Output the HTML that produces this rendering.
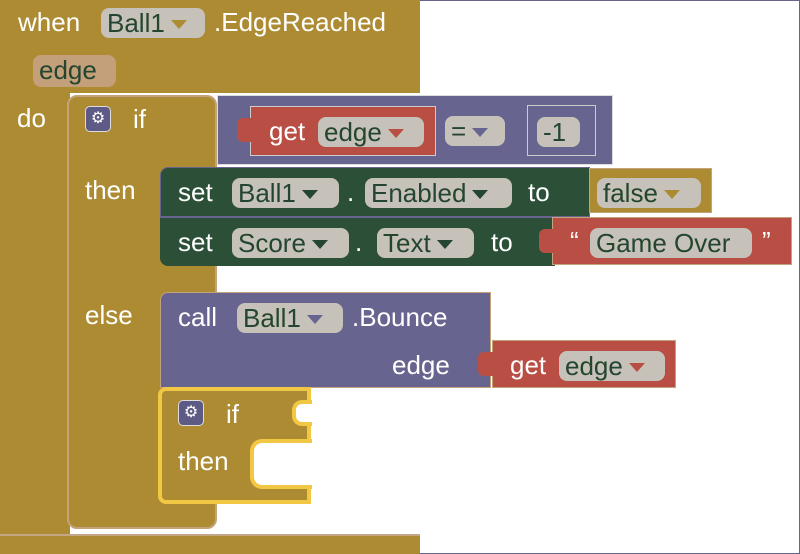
<!DOCTYPE html>
<html><head><meta charset="utf-8"><style>
body{margin:0;width:800px;height:554px;overflow:hidden;background:#fff;font-family:"Liberation Sans",sans-serif;}
.a{position:absolute;box-sizing:border-box;}
.t{position:absolute;color:#fff;font-size:26px;line-height:30px;white-space:nowrap;}
.f{position:absolute;box-sizing:border-box;background:#c6c2b9;border-radius:8px;color:#24452f;font-size:26px;line-height:30px;padding:0 6px;white-space:nowrap;}
.f .dd{display:inline-block;width:0;height:0;border-left:8px solid transparent;border-right:8px solid transparent;border-top:9px solid #24452f;margin-left:6px;vertical-align:3px;}
.gold{background:#ad8b33;}
.purp{background:#67648f;}
.red{background:#b94f44;}
.grn{background:#2c4f38;}
.gear{position:absolute;width:26px;height:26px;background:#5d5a85;border:1px solid #ddd;border-radius:5px;box-sizing:border-box;color:#fff;font-size:16px;line-height:24px;text-align:center;}
</style></head><body>
<div class="a" style="left:0;top:0;width:800px;height:554px;border:1px solid #67648f;border-left:none;"></div>
<div class="a gold" style="left:0;top:0;width:420px;height:93px;"></div>
<div class="a gold" style="left:0;top:90px;width:70px;height:464px;"></div>
<div class="a gold" style="left:0;top:534px;width:420px;height:20px;border-top:2px solid #c2a685;"></div>
<div class="t" style="left:18px;top:7px;">when</div>
<div class="f" style="left:101px;top:8px;width:104px;height:30px;">Ball1<span class="dd" style="border-top-color:#ad8b33"></span></div>
<div class="t" style="left:214px;top:7px;">.EdgeReached</div>
<div class="f" style="left:33px;top:55px;width:83px;height:32px;background:#c4a07a;">edge</div>
<div class="t" style="left:17px;top:103px;">do</div>
<div class="a gold" style="left:67px;top:95px;width:150px;height:434px;border:2px solid #c4a27a;border-radius:10px;"></div>
<div class="gear" style="left:85px;top:106px;">⚙</div>
<div class="t" style="left:133px;top:104px;">if</div>
<div class="t" style="left:85px;top:175px;">then</div>
<div class="t" style="left:85px;top:300px;">else</div>
<div class="a purp" style="left:217px;top:95px;width:396px;height:70px;border:1px solid #ddd;"></div>
<div class="a red" style="left:250px;top:106px;width:186px;height:50px;border:1px solid #ccc;"></div>
<div class="a red" style="left:237px;top:118px;width:16px;height:24px;border-radius:6px 0 0 6px;"></div>
<div class="t" style="left:269px;top:116px;">get</div>
<div class="f" style="left:318px;top:117px;width:106px;height:30px;">edge<span class="dd" style="border-top-color:#b94f44"></span></div>
<div class="f" style="left:445px;top:116px;width:60px;height:30px;">=<span class="dd" style="border-top-color:#67648f"></span></div>
<div class="a" style="left:527px;top:105px;width:69px;height:51px;border:1px solid #ccc;"></div>
<div class="f" style="left:537px;top:117px;width:43px;height:30px;">-1</div>
<div class="a grn" style="left:160px;top:167px;width:430px;height:50px;border-radius:8px 0 0 0;border:1px solid #67648f;"></div>
<div class="t" style="left:178px;top:177px;">set</div>
<div class="f" style="left:232px;top:178px;width:107px;height:30px;">Ball1<span class="dd"></span></div>
<div class="t" style="left:347px;top:177px;">.</div>
<div class="f" style="left:365px;top:178px;width:147px;height:30px;">Enabled<span class="dd"></span></div>
<div class="t" style="left:528px;top:177px;">to</div>
<div class="a gold" style="left:589px;top:168px;width:123px;height:45px;border:1px solid #c4a27a;"></div>
<div class="f" style="left:597px;top:178px;width:104px;height:30px;">false<span class="dd" style="border-top-color:#ad8b33"></span></div>
<div class="a grn" style="left:160px;top:217px;width:395px;height:49px;border-top:1px solid #67648f;border-radius:0 0 0 8px;"></div>
<div class="t" style="left:178px;top:227px;">set</div>
<div class="f" style="left:232px;top:228px;width:117px;height:30px;">Score<span class="dd"></span></div>
<div class="t" style="left:355px;top:227px;">.</div>
<div class="f" style="left:377px;top:228px;width:97px;height:30px;">Text<span class="dd"></span></div>
<div class="t" style="left:491px;top:227px;">to</div>
<div class="a red" style="left:552px;top:217px;width:240px;height:48px;border:1px solid #c4a27a;"></div>
<div class="a red" style="left:539px;top:229px;width:16px;height:24px;border-radius:6px 0 0 6px;"></div>
<div class="t" style="left:570px;top:226px;">“</div>
<div class="f" style="left:590px;top:228px;width:162px;height:30px;">Game Over</div>
<div class="t" style="left:762px;top:226px;">”</div>
<div class="a purp" style="left:160px;top:292px;width:331px;height:96px;border-radius:8px 0 0 0;border:1px solid #c4a27a;"></div>
<div class="t" style="left:178px;top:302px;">call</div>
<div class="f" style="left:237px;top:303px;width:106px;height:30px;">Ball1<span class="dd" style="border-top-color:#67648f"></span></div>
<div class="t" style="left:352px;top:302px;">.Bounce</div>
<div class="t" style="left:392px;top:350px;">edge</div>
<div class="a red" style="left:492px;top:340px;width:184px;height:48px;border:1px solid #c4a27a;"></div>
<div class="a red" style="left:478px;top:352px;width:16px;height:24px;border-radius:6px 0 0 6px;"></div>
<div class="t" style="left:510px;top:350px;">get</div>
<div class="f" style="left:559px;top:351px;width:106px;height:30px;">edge<span class="dd" style="border-top-color:#b94f44"></span></div>
<div class="a gold" style="left:158px;top:387px;width:153px;height:117px;border:4px solid #f2c744;border-radius:8px 0 0 8px;"></div>
<div class="a" style="left:250px;top:439px;width:62px;height:50px;background:#fff;border:4px solid #f2c744;border-right:none;border-radius:12px 0 0 12px;"></div>
<div class="a" style="left:292px;top:400px;width:20px;height:26px;background:#fff;border:4px solid #f2c744;border-right:none;border-radius:10px 0 0 10px;"></div>
<div class="gear" style="left:178px;top:400px;">⚙</div>
<div class="t" style="left:226px;top:399px;">if</div>
<div class="t" style="left:178px;top:446px;">then</div>
</body></html>
